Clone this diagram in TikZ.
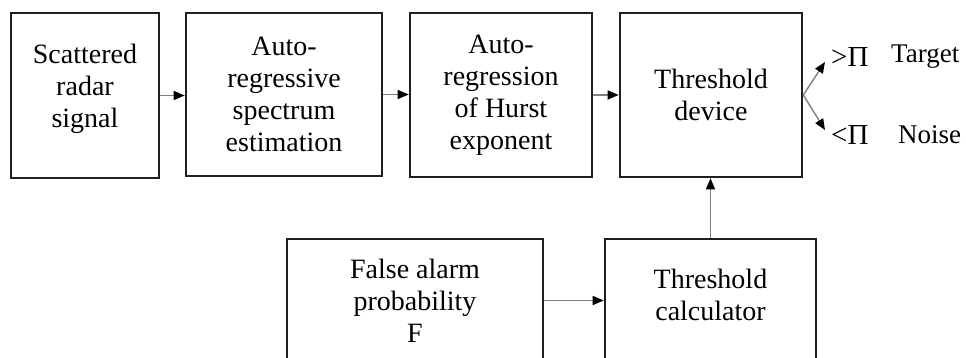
\documentclass[tikz,border=0pt]{standalone}
\usepackage{fontspec}
\setmainfont{Liberation Serif}
\usetikzlibrary{arrows.meta,calc}
\begin{document}
\begin{tikzpicture}[x=1pt,y=-1pt,
  block/.style={draw=black!88,line width=2.6pt,align=center,
    font=\fontsize{28}{32}\selectfont,inner sep=0pt},
  txt/.style={align=center,font=\fontsize{28}{32}\selectfont,inner sep=0pt},
  flow/.style={draw=black!50,line width=1.4pt,
    -{Triangle[length=11pt,width=9pt,color=black]}},
  outlbl/.style={font=\fontsize{27}{31}\selectfont,inner sep=0pt,anchor=west}]
\useasboundingbox (0,0) rectangle (966,358);

% processing chain
\node[block,minimum width=148pt,minimum height=165pt] (sig) at (85,95.5) {};
\node[txt] (sigtxt) at ($(sig)+(0,-7)$) {Scattered\\radar\\signal};
\node[block,minimum width=196pt,minimum height=163pt] (spec) at (284,94.5)
  {Auto-\\regressive\\spectrum\\estimation};
\node[block,minimum width=182pt,minimum height=164pt] (hurst) at (501,95)
  {Auto-\\regression\\of Hurst\\exponent};
\node[block,minimum width=182pt,minimum height=164pt] (thr) at (711,95)
  {Threshold\\device};

% threshold branch
\node[block,minimum width=256pt,minimum height=123pt] (pfa) at (415,300.5)
  {False alarm\\probability\\F};
\node[block,minimum width=211pt,minimum height=123pt] (calc) at (710.5,300.5) {};
\node[txt] (calctxt) at ($(calc)+(0,-6)$) {Threshold\\calculator};

% decision outputs
\coordinate (tipT) at (825,62);
\coordinate (tipN) at (825,130);
\node[outlbl,font=\fontsize{29}{31}\selectfont] (gt) at (831,57) {>Π};
\node[outlbl] (tgt) at (891,57) {Target};
\node[outlbl,font=\fontsize{29}{31}\selectfont] (lt) at (831,135) {<Π};
\node[outlbl] (noise) at (898,135) {Noise};

% connectors
\draw[flow] (sig.east) -- (sig.east -| spec.west);
\draw[flow] (spec.east) -- (spec.east -| hurst.west);
\draw[flow] (hurst.east) -- (hurst.east -| thr.west);
\draw[flow] (pfa.east) -- (pfa.east -| calc.west);
\draw[flow] (calc.north) -- (calc.north |- thr.south);
\draw[flow] (thr.east) -- (tipT);
\draw[flow] (thr.east) -- (tipN);
\end{tikzpicture}
\end{document}
